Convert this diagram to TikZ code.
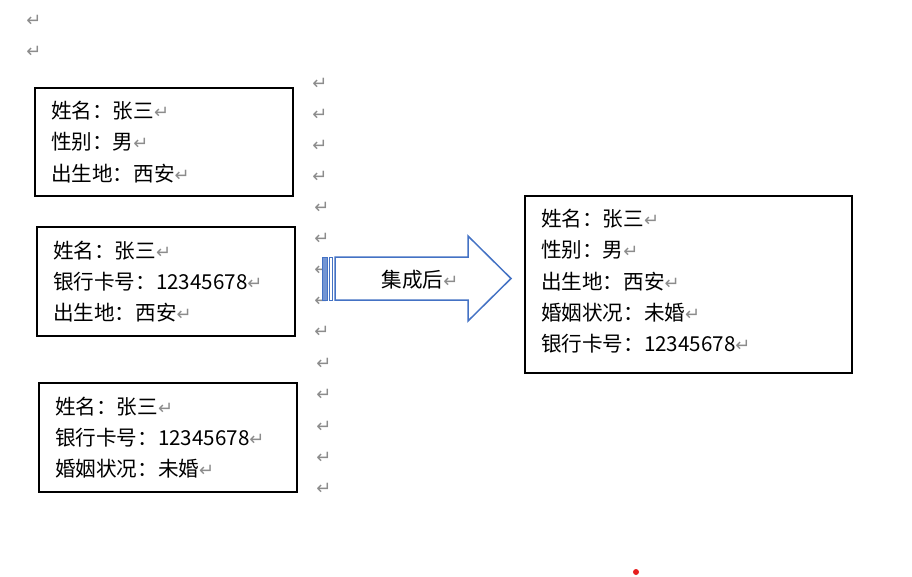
\documentclass[tikz,border=0pt]{standalone}
\usepackage{fontspec}
\newfontfamily\cjkfont{Noto Sans CJK SC}
\newfontfamily\symfont{DejaVu Sans}
\usetikzlibrary{positioning}
\definecolor{wdblue}{RGB}{68,114,196}
\definecolor{wdgris}{RGB}{140,140,140}
\definecolor{wdred}{RGB}{230,30,30}
\newcommand{\retsym}{{\symfont\fontsize{18}{18}\selectfont\textcolor{wdgris}{↵}}}
\tikzset{
  infobox/.style={
    rectangle, draw=black, line width=1.5pt, outer sep=0pt,
    anchor=north west, align=left, inner xsep=16pt,
    font=\cjkfont\fontsize{20.6}{31.3}\selectfont
  },
  retmark/.style={
    inner sep=0pt, text=wdgris, font=\symfont\fontsize{18}{18}\selectfont
  },
  arrowbody/.style={draw=wdblue, line width=1.5pt, fill=white, line join=miter},
  arrowlabel/.style={inner sep=0pt, font=\cjkfont\fontsize{20.6}{24}\selectfont}
}
\begin{document}
\begin{tikzpicture}[x=1pt, y=-1pt]
  \useasboundingbox (0,0) rectangle (912,576);

  % Paragraph marks
  \node[retmark] (top1) at (34,21) {↵};
  \node[retmark] (top2) at (34,52) {↵};
  \foreach \x/\y [count=\i] in {320/84,320/115,320/146,320/177,322/208,322/239,
      322/270,322/301,322/332,324/364,324/395,324/427,324/458,324/489}
    \node[retmark] (col\i) at (\x,\y) {↵};

  % Source records
  \node[infobox, minimum width=258pt, minimum height=108pt, text width=226pt]
    (rec1) at (35,88) {姓名：张三\retsym\\性别：男\retsym\\出生地：西安\retsym};
  \node[infobox, minimum width=258pt, minimum height=109pt, text width=226pt]
    (rec2) at (37,227) {姓名：张三\retsym\\银行卡号：12345678\retsym\\出生地：西安\retsym};
  \node[infobox, minimum width=258pt, minimum height=109pt, text width=226pt]
    (rec3) at (39,383) {姓名：张三\retsym\\银行卡号：12345678\retsym\\婚姻状况：未婚\retsym};

  % Striped arrow
  \draw[arrowbody, line width=1pt, fill=wdblue!75] (322,257) rectangle (327,300);
  \draw[arrowbody, line width=1pt] (329,257) rectangle (332.5,300);
  \draw[arrowbody] (335,257) -- (468,257) -- (468,236) -- (511,278.5)
    -- (468,321) -- (468,300) -- (335,300) -- cycle;
  \node[arrowlabel] (merge) at (420,280) {集成后\retsym};

  % Integrated record
  \node[infobox, minimum width=327pt, minimum height=177pt, text width=295pt,
    text depth=133pt]
    (merged) at (525,196) {姓名：张三\retsym\\性别：男\retsym\\出生地：西安\retsym\\
      婚姻状况：未婚\retsym\\银行卡号：12345678\retsym};

  \fill[wdred] (636,572) circle (3);
\end{tikzpicture}
\end{document}
